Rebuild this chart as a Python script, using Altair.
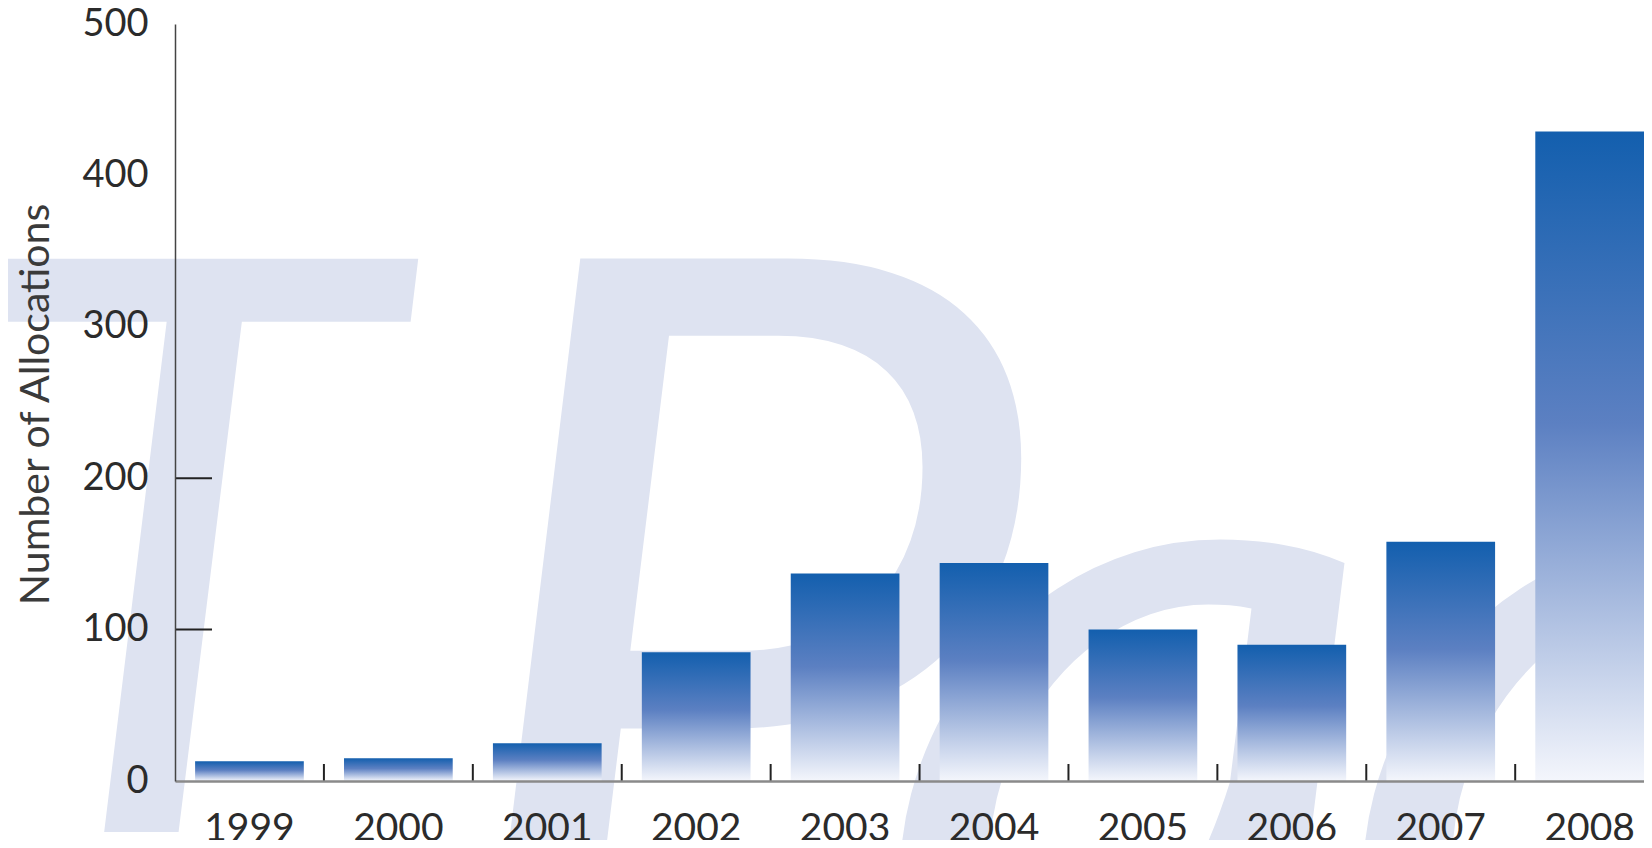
import altair as alt
import pandas as pd

# ---- data ----
years = ["1999", "2000", "2001", "2002", "2003", "2004", "2005", "2006", "2007", "2008"]
allocations = [13, 15, 25, 85, 137, 144, 100, 90, 158, 429]
y_tick_values = [0, 100, 200, 300, 400, 500]
inner_tick_values = [100, 200]
watermark_letters = ["T", "P", "a", "a"]

df = pd.DataFrame({"year": years, "allocations": allocations})
df_ticks = pd.DataFrame({"year": years[1:]})
df_ytick = pd.DataFrame({"v": inner_tick_values})

W, H = 1469, 757
FONT = "Lato"
P_IN, P_OUT = 0.27, 0.0675
step = W / (len(years) - P_IN + 2 * P_OUT)

x_scale = alt.Scale(domain=years, paddingInner=P_IN, paddingOuter=P_OUT, align=1)
y_scale = alt.Scale(domain=[0, 500], nice=False)

gradient = alt.Gradient(
    gradient="linear",
    stops=[
        alt.GradientStop(color="#135fae", offset=0),
        alt.GradientStop(color="#5c80c2", offset=0.45),
        alt.GradientStop(color="#f4f6fc", offset=1),
    ],
    x1=1, x2=1, y1=0, y2=1,
)

wm_color = "#dee3f1"
# (x, baseline y, font size) of each watermark letter, relative to the plot area
wm_style = [(-222, 808, 800), (262, 987, 1050), (700, 1029, 1000), (1163, 1029, 1000)]
wm_layers = []
for letter, (px, py, fs) in zip(watermark_letters, wm_style):
    wm_layers.append(
        alt.Chart(pd.DataFrame({"t": [letter]})).mark_text(
            font=FONT, fontSize=fs, fontStyle="italic", color=wm_color,
            align="left", baseline="alphabetic",
        ).encode(text="t:N", x=alt.value(px), y=alt.value(py))
    )

bars = alt.Chart(df).mark_bar(color=gradient).encode(
    x=alt.X("year:N", scale=x_scale, sort=years,
            axis=alt.Axis(title=None, labelAngle=0, labelFont=FONT, labelFontSize=39,
                          labelColor="#2b2b2b", labelPadding=28, ticks=False,
                          domainColor="#8a8a8a", domainWidth=2.5, zindex=1)),
    y=alt.Y("allocations:Q", scale=y_scale,
            axis=alt.Axis(title="Number of Allocations", values=y_tick_values,
                          grid=False, ticks=False, labelFont=FONT, labelFontSize=38,
                          labelColor="#2b2b2b", labelPadding=27,
                          domainColor="#444444", domainWidth=1.5,
                          titleFont=FONT, titleFontSize=41, titleFontWeight="normal",
                          titleColor="#3a3a3a", titleX=-127, titleY=380,
                          titleAngle=270, titleAlign="center", titleBaseline="alphabetic",
                          zindex=1)),
)

xticks = alt.Chart(df_ticks).mark_rule(color="#222222", strokeWidth=2, xOffset=-step * P_IN / 2).encode(
    x=alt.X("year:N", scale=x_scale, sort=years, bandPosition=0),
    y=alt.value(H - 17),
    y2=alt.value(H),
)

yticks = alt.Chart(df_ytick).mark_rule(color="#222222", strokeWidth=2).encode(
    y=alt.Y("v:Q", scale=y_scale),
    x=alt.value(0),
    x2=alt.value(37),
)

chart = alt.layer(*wm_layers, bars, xticks, yticks).properties(
    width=W, height=H,
    autosize=alt.AutoSizeParams(type="none"),
    padding={"left": 167, "top": 16, "right": 0, "bottom": 59},
    background="white",
).configure_view(stroke=None)

chart.save("out.html", embed_options={"renderer": "svg", "actions": False})
